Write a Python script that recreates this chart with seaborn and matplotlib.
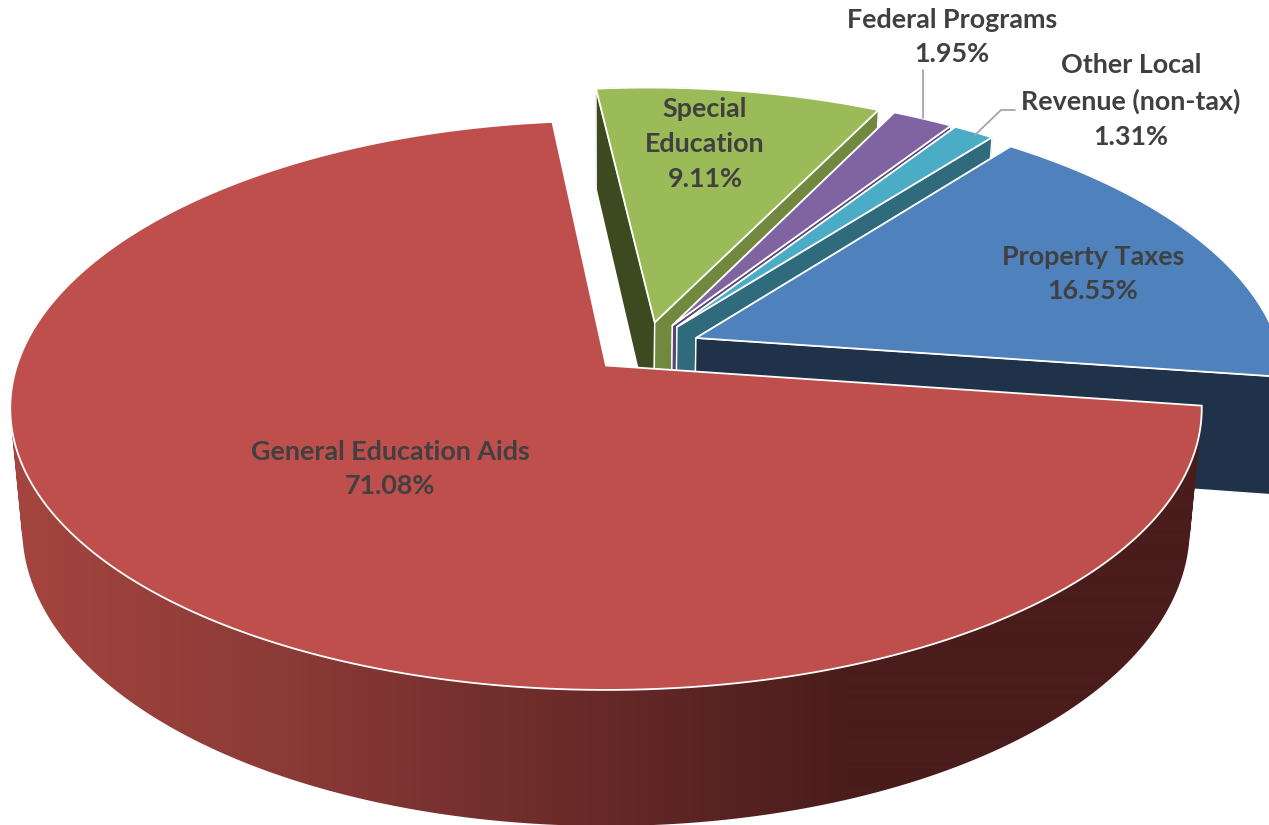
import numpy as np
import matplotlib
matplotlib.use("Agg")
import matplotlib.pyplot as plt
from matplotlib.path import Path
from matplotlib.patches import PathPatch
import seaborn as sns

# Revenue shares, clockwise from the top of the pie
categories = ["Special\nEducation", "Federal Programs", "Other Local\nRevenue (non-tax)",
              "Property Taxes", "General Education Aids"]
shares = [9.11, 1.95, 1.31, 16.55, 71.08]

top_colors = ["#9BBB59", "#8064A2", "#4BACC6", "#4F81BD", "#BE4F4C"]
end_wall_colors = ["#71893F", "#5A4675", "#2F6B7C", "#1F3249", None]
start_wall_colors = ["#3D4A20", "#3F3152", "#1F4C58", "#1F3249", None]
rim_colors = ["#71893F", "#5A4675", "#2F6B7C", "#1F3249", None]

label_positions = [(705, 144), (952, 37), (1131, 101), (1093, 274), (390, 469)]

# Projection of the tilted pie onto the canvas
FIRST_ANGLE = -6.0
EXPLODE = 0.094
CENTER_X, CENTER_Y = 606.0, 365.5
SCALE_X, SCALE_Y = 589.0, 279.0
PERSPECTIVE_X, PERSPECTIVE_Y = 0.15, 0.14
DEPTH, BASE_SHRINK = 117.0, 0.98


def project(u, v):
    return (CENTER_X + SCALE_X * u / (1 + PERSPECTIVE_X * v),
            CENTER_Y - SCALE_Y * v / (1 + PERSPECTIVE_Y * v))


def base(u, v):
    x, y = project(u, v)
    return CENTER_X + (x - CENTER_X) * BASE_SHRINK, y + DEPTH / (1 + PERSPECTIVE_Y * v)


def direction(deg):
    r = np.radians(deg)
    return np.sin(r), np.cos(r)


def band_path(tx, ty, bx, by):
    """Outer wall as quads wound the same way, so folded parts stay filled."""
    verts, codes = [], []
    for j in range(len(tx) - 1):
        quad = np.array([[tx[j], ty[j]], [tx[j + 1], ty[j + 1]],
                         [bx[j + 1], by[j + 1]], [bx[j], by[j]]])
        x, y = quad[:, 0], quad[:, 1]
        if np.dot(x, np.roll(y, -1)) - np.dot(y, np.roll(x, -1)) < 0:
            quad = quad[::-1]
        verts.extend(quad.tolist() + [quad[0].tolist()])
        codes.extend([Path.MOVETO, Path.LINETO, Path.LINETO, Path.LINETO, Path.CLOSEPOLY])
    return Path(verts, codes)


sns.set_theme(style="white")
plt.rcParams["font.family"] = ["Lato", "DejaVu Sans"]

fig, ax = plt.subplots(figsize=(12.69, 8.25), dpi=100)
ax.set_position([0, 0, 1, 1])
ax.axis("off")

edges = np.concatenate([[0], np.cumsum(shares)]) / 100 * 360 + FIRST_ANGLE
mids = (edges[:-1] + edges[1:]) / 2
rim_ramp = sns.blend_palette(["#A5453F", "#8A3A37", "#6A2B29", "#4A1C1C"], 256, as_cmap=True)
last_mid = direction(mids[-1])

for i in range(len(shares)):
    a0, a1 = edges[i], edges[i + 1]
    mx, my = direction(mids[i])
    ou = EXPLODE * (mx - last_mid[0])
    ov = EXPLODE * (my - last_mid[1])
    thetas = np.linspace(a0, a1, max(24, int((a1 - a0) * 2)))
    us, vs = np.sin(np.radians(thetas)) + ou, np.cos(np.radians(thetas)) + ov
    tx, ty = project(us, vs)
    bx, by = base(us, vs)
    apex_x, apex_y = project(ou, ov)
    foot_x, foot_y = base(ou, ov)
    layer = 1 + i * 0.1

    # curved outer wall: a horizontal light-to-dark ramp on the large slice, flat elsewhere
    wall = band_path(tx, ty, bx, by)
    if rim_colors[i] is None:
        ramp = np.clip((np.linspace(0, 1269, 1269) - 12) / (850 - 12), 0, 1)[None, :]
        image = ax.imshow(ramp, cmap=rim_ramp, vmin=0, vmax=1, aspect="auto",
                          extent=(0, 1269, 825, 0), interpolation="bilinear", zorder=layer)
        clip = PathPatch(wall, transform=ax.transData, facecolor="none", edgecolor="none")
        ax.add_patch(clip)
        image.set_clip_path(clip)
    else:
        ax.add_patch(PathPatch(wall, facecolor=rim_colors[i], edgecolor=rim_colors[i],
                               linewidth=0.5, zorder=layer))

    # radial side walls, hidden below the top on the large slice
    for idx, col in ((0, start_wall_colors[i]), (-1, end_wall_colors[i])):
        if col is not None:
            ax.fill([apex_x, tx[idx], bx[idx], foot_x], [apex_y, ty[idx], by[idx], foot_y],
                    facecolor=col, edgecolor="white", linewidth=1.0, zorder=layer + 0.02)

    # top face
    ax.fill(np.r_[apex_x, tx], np.r_[apex_y, ty], facecolor=top_colors[i],
            edgecolor="white", linewidth=1.3, joinstyle="miter", zorder=layer + 0.05)

# leader lines for the two narrow slices
ax.plot([923, 923], [70, 118], color="#A6A6A6", linewidth=1.3, zorder=3)
ax.plot([1015, 1001, 975], [110, 110, 135], color="#A6A6A6", linewidth=1.3, zorder=3)

for name, value, (x, y) in zip(categories, shares, label_positions):
    ax.text(x, y, f"{name}\n{value:.2f}%", ha="center", va="center", zorder=4,
            fontsize=19.4, fontweight="bold", color="#404040", linespacing=1.53)

ax.set_xlim(0, 1269)
ax.set_ylim(825, 0)

fig.savefig("out.png", dpi=100, facecolor="white")
